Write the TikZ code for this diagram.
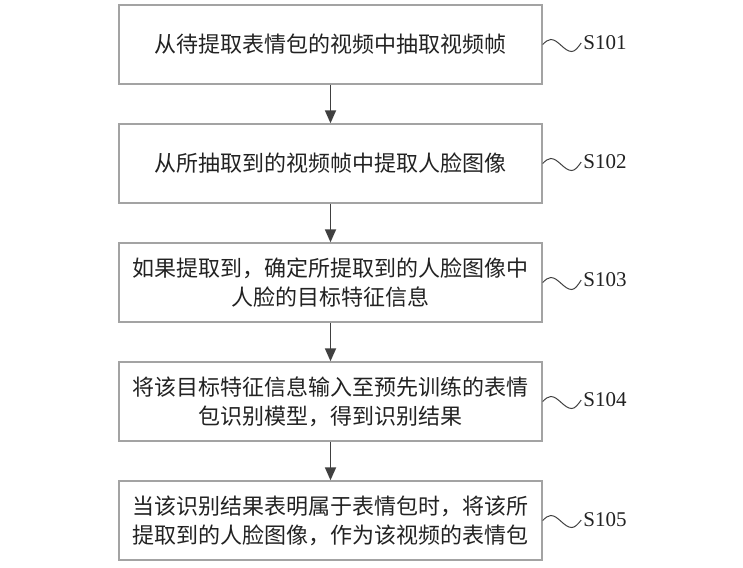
\documentclass[tikz,border=0pt]{standalone}
\usepackage{fontspec}
\setmainfont{Liberation Serif}
\newfontfamily\cjk{Noto Sans CJK SC}
\usetikzlibrary{arrows.meta}
\definecolor{boxGray}{HTML}{A3A3A3}
\definecolor{arrowGray}{HTML}{404040}
\definecolor{textGray}{HTML}{222222}

\begin{document}
\begin{tikzpicture}[x = 1pt, y = -1pt]
	\tikzstyle{boxStyle}=[draw = boxGray, line width = 1.4pt, minimum width = 423pt, minimum height = 79pt, inner sep = 0pt, align = center, text = textGray, font = \cjk\fontsize{22}{29}\selectfont]
	\tikzstyle{labelStyle}=[inner sep = 2pt, text = textGray, font = \fontsize{21}{24}\selectfont]
	\tikzstyle{arrowStyle}=[draw = arrowGray, line width = 1.8pt, -{Triangle[length = 13pt, width = 11pt]}]
	\tikzstyle{waveStyle}=[draw = arrowGray, line width = 1pt]
	\useasboundingbox (0, 0) rectangle (743, 567);
	\node[boxStyle] (b1) at (330.5, 44.5) {从待提取表情包的视频中抽取视频帧};
	\node[boxStyle] (b2) at (330.5, 163.5) {从所抽取到的视频帧中提取人脸图像};
	\node[boxStyle] (b3) at (330.5, 282.5) {如果提取到，确定所提取到的人脸图像中\\人脸的目标特征信息};
	\node[boxStyle] (b4) at (330.5, 401.5) {将该目标特征信息输入至预先训练的表情\\包识别模型，得到识别结果};
	\node[boxStyle] (b5) at (330.5, 520.5) {当该识别结果表明属于表情包时，将该所\\提取到的人脸图像，作为该视频的表情包};
	\node[labelStyle] (l1) at (605, 43) {S101};
	\node[labelStyle] (l2) at (605, 162) {S102};
	\node[labelStyle] (l3) at (605, 280) {S103};
	\node[labelStyle] (l4) at (605, 400) {S104};
	\node[labelStyle] (l5) at (605, 520) {S105};
	\draw[arrowStyle] (b1) -- (b2);
	\draw[arrowStyle] (b2) -- (b3);
	\draw[arrowStyle] (b3) -- (b4);
	\draw[arrowStyle] (b4) -- (b5);
	\draw[waveStyle] (b1.east) sin ++(8, -5) cos ++(10.5, 6) sin ++(10.5, 6) cos (l1.west);
	\draw[waveStyle] (b2.east) sin ++(8, -5) cos ++(10.5, 6) sin ++(10.5, 6) cos (l2.west);
	\draw[waveStyle] (b3.east) sin ++(8, -5) cos ++(10.5, 6) sin ++(10.5, 6) cos (l3.west);
	\draw[waveStyle] (b4.east) sin ++(8, -5) cos ++(10.5, 6) sin ++(10.5, 6) cos (l4.west);
	\draw[waveStyle] (b5.east) sin ++(8, -5) cos ++(10.5, 6) sin ++(10.5, 6) cos (l5.west);
\end{tikzpicture}
\end{document}
